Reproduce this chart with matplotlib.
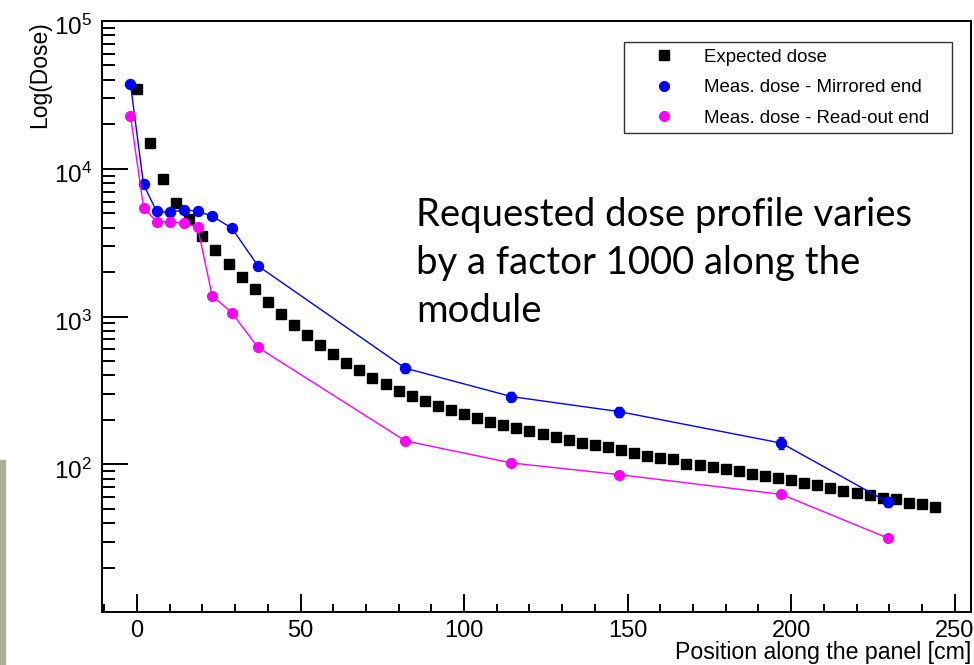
import numpy as np
import matplotlib
matplotlib.use("Agg")
import matplotlib.pyplot as plt
import matplotlib.transforms as mtransforms
from matplotlib.patches import Rectangle
from matplotlib.lines import Line2D
from matplotlib.ticker import LogLocator, MultipleLocator, NullFormatter

plt.rcParams['font.family'] = ['Liberation Sans', 'DejaVu Sans']
plt.rcParams['mathtext.fontset'] = 'custom'
plt.rcParams['mathtext.rm'] = 'Liberation Sans'
plt.rcParams['mathtext.it'] = 'Liberation Sans'

# Expected dose, one square every 4 cm
exp_pos = list(range(0, 245, 4))
exp_dose = [34400, 14900, 8500, 5900, 4540, 3490, 2830, 2270, 1850, 1530,
            1260, 1040, 879, 754, 641, 556, 487, 434, 386, 348,
            314, 289, 267, 248, 232, 218, 205, 193, 184, 175,
            168, 159, 152, 145, 139, 134, 130, 125, 120, 114,
            111, 108, 101, 99, 96, 93, 90, 86, 83, 81,
            78, 75, 72, 69, 66, 64, 62, 59, 58, 55,
            53.5, 51]

# Measured dose positions (both ends)
meas_pos = [-2, 2, 6, 10, 14.5, 18.5, 23, 29, 37, 82, 114.5, 147.5, 197, 229.5]
mirr_dose = [37600, 7830, 5140, 5060, 5280, 5160, 4780, 3960, 2200, 447, 287, 227, 139, 55.5]
mirr_err = [0, 0, 0, 0, 0, 0, 0, 0, 0, 30, 20, 17, 13, 4.5]
read_dose = [22900, 5450, 4380, 4380, 4270, 4030, 1380, 1060, 617, 144, 102, 85, 62.5, 31.7]
read_err = [0, 0, 0, 0, 0, 0, 0, 0, 0, 5, 3, 3, 2.5, 1.2]

labels = ['Expected dose', 'Meas. dose - Mirrored end', 'Meas. dose - Read-out end']
colors = ['black', '#0000ff', '#ff00ff']

fig = plt.figure(figsize=(9.74, 6.65), dpi=100)
ax = fig.add_axes([102/974, 53/665, 869/974, 591/665])

ax.plot(exp_pos, exp_dose, 's', color=colors[0], ms=7.5, ls='none')
ax.errorbar(meas_pos, mirr_dose, yerr=mirr_err, fmt='o-', color=colors[1], ms=7.2,
            lw=1.0, elinewidth=2, capsize=2.5)
ax.errorbar(meas_pos, read_dose, yerr=read_err, fmt='o-', color=colors[2], ms=7,
            lw=1.0, elinewidth=2, capsize=2)

ax.set_yscale('log')
ax.set_ylim(10, 1e5)
ax.set_xlim(-10.7, 255)

ax.xaxis.set_major_locator(MultipleLocator(50))
ax.xaxis.set_minor_locator(MultipleLocator(10))
ax.yaxis.set_minor_locator(LogLocator(base=10, subs=np.arange(2, 10), numticks=20))
ax.yaxis.set_minor_formatter(NullFormatter())
ax.set_yticks([1e2, 1e3, 1e4, 1e5])
ax.set_yticklabels([r'$10^{2}$', r'$10^{3}$', r'$10^{4}$', r'$10^{5}$'])

for s in ax.spines.values():
    s.set_linewidth(1.4)
ax.tick_params(axis='both', which='both', direction='in', width=1.4,
               top=False, right=False)
ax.tick_params(axis='y', which='major', length=19, pad=7, labelsize=17.5)
ax.tick_params(axis='y', which='minor', length=9.5)
ax.tick_params(axis='x', which='major', length=13, pad=6, labelsize=17)
ax.tick_params(axis='x', which='minor', length=6)

# ROOT puts the exponent labels slightly below the tick
shift = mtransforms.ScaledTranslation(0, -3/72, fig.dpi_scale_trans)
for lab in ax.get_yticklabels():
    lab.set_transform(lab.get_transform() + shift)

ax.set_ylabel('Log(Dose)', fontsize=16.5, loc='top')
ax.yaxis.set_label_coords(-62/869, 1.0)
ax.yaxis.label.set_verticalalignment('center')
ax.set_xlabel('Position along the panel [cm]', fontsize=16.7, loc='right')
ax.xaxis.set_label_coords(1.0, -40/591)
ax.xaxis.label.set_verticalalignment('center')

handles = [Line2D([], [], marker='s', color=colors[0], ls='none', ms=7),
           Line2D([], [], marker='o', color=colors[1], ls='none', ms=7),
           Line2D([], [], marker='o', color=colors[2], ls='none', ms=7)]
leg = ax.legend(handles, labels, loc='upper left', mode='expand', fontsize=13.4,
                bbox_to_anchor=(624/974, 1 - 43/665, (952 - 624)/974, 0.001),
                bbox_transform=fig.transFigure, frameon=True, fancybox=False,
                shadow=False, borderpad=0.35, labelspacing=0.72,
                handlelength=3.6, handletextpad=0.35, borderaxespad=0, numpoints=1)
leg.get_frame().set_edgecolor('black')
leg.get_frame().set_linewidth(1.0)

fig.text(416/974, 1 - 197/665,
         'Requested dose profile varies\nby a factor 1000 along the\nmodule',
         family='Lato', fontsize=27.5, ha='left', va='top', linespacing=1.42)

fig.patches.append(Rectangle((0, 0), 5/974, 205/665, transform=fig.transFigure,
                             color='#aab09c', zorder=0))

fig.savefig('out.png', dpi=100)
